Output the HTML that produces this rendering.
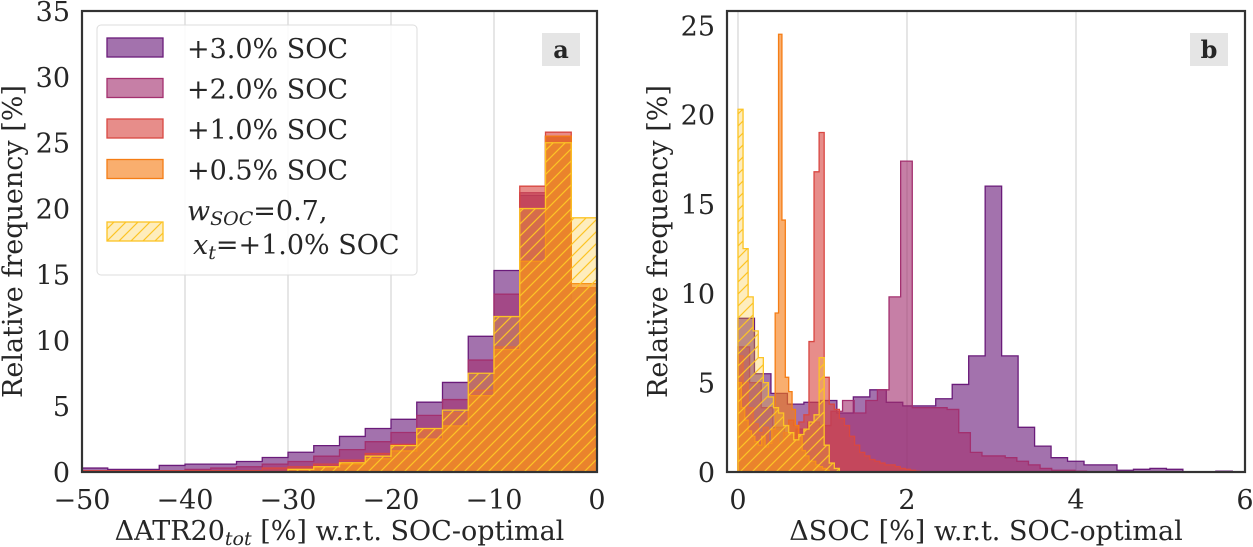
<!DOCTYPE html>
<html><head><meta charset="utf-8">
<style>
html,body{margin:0;padding:0;background:#fff;}
svg{display:block;font-family:"DejaVu Serif","Liberation Serif",serif;}
</style></head>
<body>
<svg id="chart" width="1253" height="547" viewBox="0 0 1253 547" xmlns="http://www.w3.org/2000/svg">
<defs>
<pattern id="hatch" patternUnits="userSpaceOnUse" width="12" height="12">
<path d="M-3,15 L15,-3 M-3,3 L3,-3 M9,15 L15,9" stroke="#fcc425" stroke-width="1.2"/>
</pattern>
</defs>
<g id="panelA"></g>
<g id="panelB"></g>
</svg>
<script>
// ---- Panel a data (ΔATR20 histogram, bins of 2.5 from -50 to 0) ----
const aBinStart = -50;
const aBinWidth = 2.5;
const aPurple = [0.3,0.2,0.2,0.5,0.6,0.6,0.8,1.1,1.5,2.0,2.7,3.3,4.0,5.3,6.8,10.3,15.3,21.0,25.5,14.0];
const aMauve  = [0.1,0.1,0.1,0.1,0.2,0.3,0.4,0.6,0.8,1.2,1.7,2.3,3.0,4.3,5.5,8.5,13.5,21.2,25.5,13.0];
const aRed    = [0.1,0.1,0.1,0.1,0.1,0.1,0.1,0.3,0.4,0.6,0.9,1.4,2.1,3.2,4.5,6.2,9.5,21.7,25.8,14.0];
const aOrange = [0,0,0,0,0,0,0,0,0.2,0.4,0.6,1.0,1.6,2.5,3.5,5.8,9.3,16.0,25.5,14.3];
const aYellow = [0,0,0,0,0,0,0,0,0.2,0.4,0.7,1.2,2.0,3.3,4.7,7.5,11.8,20.0,25.0,19.3];
const aXTicks = [-50,-40,-30,-20,-10,0];
const aYTicks = [0,5,10,15,20,25,30,35];

// ---- Panel b data (ΔSOC histograms) ----
const bPurpleStart = 0, bPurpleWidth = 0.195;
const bPurple = [8.6,5.5,4.4,3.8,3.9,4.0,3.3,4.2,4.6,3.9,3.7,3.7,4.1,4.9,6.5,16.0,6.5,2.5,1.45,0.8,0.6,0.4,0.4,0.1,0.15,0.2,0.15,0.02,0.02,0.05];
const bMauveStart = 0, bMauveWidth = 0.1375;
const bMauve = [7.0,5.0,3.6,2.5,2.0,2.4,2.8,2.6,3.4,4.0,3.3,4.0,4.6,9.8,17.4,3.6,3.6,3.6,3.5,2.2,1.1,0.9,0.9,0.8,0.6,0.4,0.2,0.1,0.1,0.05];
const bRedStart = 0, bRedWidth = 0.06;
const bRed = [6.5,5.0,3.6,2.7,2.2,2.5,1.7,2.3,1.6,2.2,2.9,2.6,2.8,3.2,7.3,16.8,19.0,5.3,3.8,3.5,3.0,2.6,2.0,1.5,1.1,0.9,0.7,0.6,0.5,0.4,0.4,0.3,0.2,0.15,0.1,0.05];
const bOrangeStart = 0, bOrangeWidth = 0.04;
const bOrange = [5.0,3.6,2.9,2.3,2.0,1.7,1.5,2.0,1.4,1.6,2.4,8.9,24.5,14.1,5.3,4.5,3.5,2.6,2.0,1.2,0.9,0.6,0.6,0.4,0.3,0.2,0.1];
const bYellowStart = 0, bYellowWidth = 0.06;
const bYellow = [20.3,12.5,9.8,7.9,6.4,5.0,4.2,3.6,3.3,2.6,2.2,1.8,2.1,2.4,2.8,3.2,6.4,1.5,0.5,0.2];
const bXTicks = [0,2,4,6];
const bYTicks = [0,5,10,15,20,25];

const NS = "http://www.w3.org/2000/svg";
const FS = 27;
function mk(tag, attrs, parent){
  const e = document.createElementNS(NS, tag);
  for (const k in attrs) e.setAttribute(k, attrs[k]);
  parent.appendChild(e);
  return e;
}

const styles = {
  purple:{fill:"#6a1b7a",stroke:"#6a1b7a",op:0.62},
  mauve:{fill:"#a3306f",stroke:"#a3306f",op:0.62},
  red:{fill:"#d94742",stroke:"#d94742",op:0.62},
  orange:{fill:"#f57d15",stroke:"#f57d15",op:0.62},
  yellow:{fill:"#fcc425",stroke:"#fcc425",op:0.3}
};

function stepPath(vals, start, width, sx, sy){
  let d = "M" + sx(start) + "," + sy(0);
  for (let i=0;i<vals.length;i++){
    const x0 = sx(start + i*width), x1 = sx(start + (i+1)*width);
    d += " L" + x0 + "," + sy(vals[i]) + " L" + x1 + "," + sy(vals[i]);
  }
  d += " L" + sx(start + vals.length*width) + "," + sy(0) + " Z";
  return d;
}

function drawPanel(g, cfg){
  const {L,R,T,B,xmin,xmax,ymin,ymax,xticks,yticks,series,xlabel,ylabel,tag} = cfg;
  const sx = v => L + (v - xmin) / (xmax - xmin) * (R - L);
  const sy = v => B - (v - ymin) / (ymax - ymin) * (B - T);
  const clipId = "clip" + tag;
  const cp = mk("clipPath",{id:clipId},g);
  mk("rect",{x:L,y:T,width:R-L,height:B-T},cp);
  xticks.forEach(t=>{
    const gl = mk("line",{x1:sx(t),x2:sx(t),y1:T,y2:B,stroke:"#cccccc","stroke-width":1},g);
    
    
  });
  const sg = mk("g",{"clip-path":"url(#"+clipId+")"},g);
  series.forEach(s=>{
    const st = styles[s.c];
    const d = stepPath(s.v, s.start, s.w, sx, sy);
    const p = mk("path",{d:d,fill:st.fill,"fill-opacity":st.op,stroke:st.stroke,"stroke-width":1.3,"stroke-linejoin":"miter"},sg);
    
    
    if (s.c === "yellow"){
      const h = mk("path",{d:d,fill:"url(#hatch)",stroke:"none"},sg);
      
      
    }
  });
  const fr = mk("rect",{x:L,y:T,width:R-L,height:B-T,fill:"none",stroke:"#333333","stroke-width":2.2},g);
  
  
  xticks.forEach(t=>{
    const tx = mk("text",{x:sx(t),y:B+37,"text-anchor":"middle","font-size":FS,fill:"#262626"},g);
    tx.textContent = (t<0? "\u2212"+Math.abs(t) : String(t));
    
    
  });
  yticks.forEach(t=>{
    const ty = mk("text",{x:L-12,y:sy(t)+10,"text-anchor":"end","font-size":FS,fill:"#262626"},g);
    ty.textContent = String(t);
    
    
  });
  const xl = mk("text",{x:(L+R)/2,y:B+68,"text-anchor":"middle","font-size":FS,fill:"#262626"},g);
  xl.innerHTML = xlabel;
  
  
  const yl = mk("text",{x:0,y:0,"text-anchor":"middle","font-size":FS,fill:"#262626",transform:"translate("+(cfg.ylx)+","+((T+B)/2)+") rotate(-90)"},g);
  yl.textContent = ylabel;
  
  
  const tb = mk("rect",{x:R-55,y:T+22,width:38,height:33,fill:"#e5e5e5"},g);
  
  
  const tt = mk("text",{x:R-36,y:T+47,"text-anchor":"middle","font-size":24,"font-weight":"bold",fill:"#262626"},g);
  tt.textContent = tag;
  
  
}

drawPanel(document.getElementById("panelA"),{
  L:82,R:597,T:11,B:472,xmin:-50,xmax:0,ymin:0,ymax:35,
  xticks:aXTicks,yticks:aYTicks,tag:"a",ylx:22,
  xlabel:'ΔATR20<tspan font-style="italic" font-size="19" dy="5">tot</tspan><tspan dy="-5"> [%] w.r.t. SOC-optimal</tspan>',
  ylabel:"Relative frequency [%]",
  series:[
    {c:"purple",v:aPurple,start:aBinStart,w:aBinWidth},
    {c:"mauve",v:aMauve,start:aBinStart,w:aBinWidth},
    {c:"red",v:aRed,start:aBinStart,w:aBinWidth},
    {c:"orange",v:aOrange,start:aBinStart,w:aBinWidth},
    {c:"yellow",v:aYellow,start:aBinStart,w:aBinWidth}
  ]
});
drawPanel(document.getElementById("panelB"),{
  L:727,R:1245,T:11,B:472,xmin:-0.13,xmax:6,ymin:0,ymax:25.8,
  xticks:bXTicks,yticks:bYTicks,tag:"b",ylx:667,
  xlabel:'ΔSOC [%] w.r.t. SOC-optimal',
  ylabel:"Relative frequency [%]",
  series:[
    {c:"purple",v:bPurple,start:bPurpleStart,w:bPurpleWidth},
    {c:"mauve",v:bMauve,start:bMauveStart,w:bMauveWidth},
    {c:"red",v:bRed,start:bRedStart,w:bRedWidth},
    {c:"orange",v:bOrange,start:bOrangeStart,w:bOrangeWidth},
    {c:"yellow",v:bYellow,start:bYellowStart,w:bYellowWidth}
  ]
});

const lg = mk("g",{},document.getElementById("panelA"));


const lb = mk("rect",{x:97,y:25,width:320,height:250,rx:4,fill:"#ffffff","fill-opacity":0.85,stroke:"#dddddd","stroke-width":1},lg);


const legLabels = ["+3.0% SOC","+2.0% SOC","+1.0% SOC","+0.5% SOC"];
const legColors = ["purple","mauve","red","orange"];
legLabels.forEach((lab,i)=>{
  const st = styles[legColors[i]];
  const y = 38 + i*40.5;
  const sw = mk("rect",{x:107,y:y,width:56,height:19,fill:st.fill,"fill-opacity":st.op,stroke:st.stroke,"stroke-width":1.3},lg);
  
  
  const t = mk("text",{x:187,y:y+20,"font-size":FS,fill:"#262626"},lg);
  t.textContent = lab;
  
  
});
const ys = styles.yellow;
const ysw = mk("rect",{x:107,y:222,width:56,height:19,fill:ys.fill,"fill-opacity":ys.op,stroke:ys.stroke,"stroke-width":1.3},lg);


const ysh = mk("rect",{x:107,y:222,width:56,height:19,fill:"url(#hatch)"},lg);


const yt1 = mk("text",{x:187,y:220,"font-size":FS,fill:"#262626"},lg);
yt1.innerHTML = '<tspan font-style="italic">w</tspan><tspan font-style="italic" font-size="19" dy="5">SOC</tspan><tspan dy="-5">=0.7,</tspan>';


const yt2 = mk("text",{x:193,y:254,"font-size":FS,fill:"#262626"},lg);
yt2.innerHTML = '<tspan font-style="italic">x</tspan><tspan font-style="italic" font-size="19" dy="5">t</tspan><tspan dy="-5">=+1.0% SOC</tspan>';


</script>
</body></html>
